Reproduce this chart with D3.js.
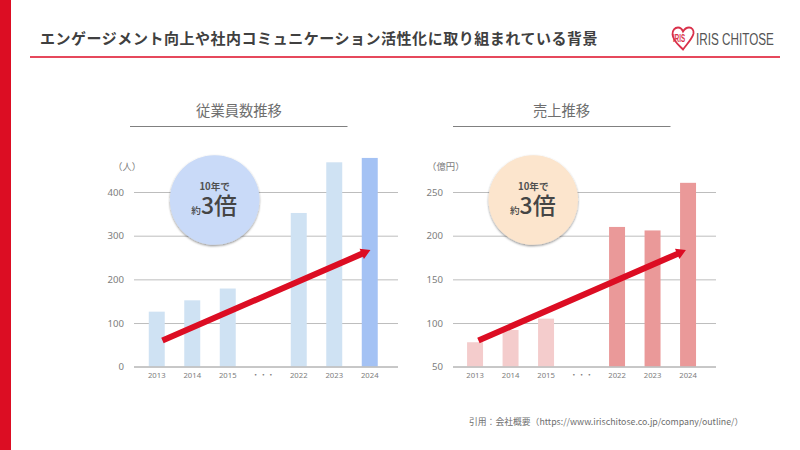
<!DOCTYPE html>
<html lang="ja">
<head>
<meta charset="utf-8">
<script src="https://cdnjs.cloudflare.com/ajax/libs/d3/7.8.5/d3.min.js"></script>
<style>
html,body{margin:0;padding:0;background:#fff;overflow:hidden}
svg{display:block}
text{font-family:"Noto Sans CJK JP","Noto Sans",sans-serif}
</style>
</head>
<body>
<svg id="c" width="800" height="450"></svg>
<script>
const categories = ["2013","2014","2015","・・・","2022","2023","2024"];
const employees = [126,152,179,null,352,468,478];
const revenue = [78,92,105,null,210,206,260.5];
const employeeTicks = [0,100,200,300,400];
const revenueTicks = [50,100,150,200,250];
const titleText = "エンゲージメント向上や社内コミュニケーション活性化に取り組まれている背景";
const sourceText = "引用：会社概要（https://www.irischitose.co.jp/company/outline/）";

const svg = d3.select("#c");
const RED = "#dc0d23";
svg.append("rect").attr("x",0).attr("y",0).attr("width",11).attr("height",450).attr("fill",RED);
svg.append("text").attr("x",40).attr("y",43.5).attr("font-size",15).attr("font-weight",700)
  .attr("letter-spacing",0.53).attr("fill","#404040").text(titleText);
svg.append("rect").attr("x",30).attr("y",56).attr("width",750).attr("height",2).attr("fill","#e6485c");

// logo
const logo = svg.append("g").attr("transform","translate(671.5,26.5)");
logo.append("path").attr("d","M11.5 23 C9 20 1.5 15 1 8 C0.7 3.5 3.5 1 6.5 1 C9 1 10.5 2.5 11.5 5 C13 2.5 15 1 17.5 1 C20.5 1 22.5 3.5 22 7 C21 12 15 18 11.5 23 Z")
  .attr("fill","none").attr("stroke","#d9304a").attr("stroke-width",1.8);
logo.append("text").attr("transform","translate(1.5,15) scale(0.62,1)").attr("font-size",10).attr("font-weight",700)
  .style("font-family","'Liberation Sans'")
  .attr("fill","#d9304a").text("IRIS");
svg.append("text").attr("transform","translate(696,44.5) scale(0.69,1)").attr("font-size",17)
  .style("font-family","'Liberation Sans'")
  .attr("fill","#555").text("IRIS CHITOSE");

const defs = svg.append("defs");
const f = defs.append("filter").attr("id","sh").attr("x","-20%").attr("y","-20%").attr("width","140%").attr("height","140%");
f.append("feDropShadow").attr("dx",0).attr("dy",1.2).attr("stdDeviation",1.2).attr("flood-color","#000").attr("flood-opacity",0.45);

function panel(o){
  const g = svg.append("g");
  // heading
  g.append("text").attr("x",o.headX).attr("y",116).attr("text-anchor","middle").attr("font-size",14.3)
    .attr("fill","#6e6e6e").text(o.heading);
  g.append("rect").attr("x",o.lineL).attr("y",126).attr("width",217.5).attr("height",1).attr("fill","#808080");

  const x = d3.scaleBand().domain(categories).range([o.bandL,o.bandL+248.5]).paddingInner(0.55).paddingOuter(0.275);
  const y = d3.scaleLinear().domain(o.domain).range([366.7,192]);
  const xIdx = d3.scaleLinear().domain([0,6]).range([x("2013")+x.bandwidth()/2, x("2024")+x.bandwidth()/2]);

  // grid + y labels
  const ya = g.append("g").attr("transform",`translate(${o.axisL},0)`)
    .call(d3.axisLeft(y).tickValues(o.ticks).tickSize(-(o.axisR-o.axisL)).tickPadding(10).tickFormat(d3.format("d")));
  ya.select(".domain").remove();
  ya.selectAll("line").attr("stroke","#bdbdbd").attr("stroke-width",1);
  ya.selectAll("text").attr("font-size",9.6).attr("fill","#7d7d7d").style("font-family","'Noto Sans','Noto Sans CJK JP'");

  // bars
  g.selectAll("rect.bar").data(categories.map((c,i)=>({c,v:o.values[i],i})).filter(d=>d.v!==null))
    .join("rect").attr("class","bar")
    .attr("x",d=>x(d.c)).attr("width",x.bandwidth())
    .attr("y",d=>y(d.v)).attr("height",d=>y(o.domain[0])-y(d.v))
    .attr("fill",d=>o.color(d.i));

  // x axis
  const xa = g.append("g").attr("transform","translate(0,367)")
    .call(d3.axisBottom(x).tickSize(0).tickPadding(5.5));
  xa.select(".domain").remove();
  xa.selectAll("text").attr("font-size",7.7).attr("fill","#7d7d7d").style("font-family","'Noto Sans','Noto Sans CJK JP'");
  g.append("line").attr("x1",o.axisL).attr("x2",o.axisR).attr("y1",366.9).attr("y2",366.9).attr("stroke","#bdbdbd").attr("stroke-width",1.2);

  // unit
  g.append("text").attr("x",o.unitX).attr("y",170).attr("font-size",9.4).attr("fill","#7d7d7d").text(o.unit);

  // arrow
  const x1=xIdx(o.arrowIdx[0]), y1=y(o.arrowVal[0]), x2=xIdx(o.arrowIdx[1]), y2=y(o.arrowVal[1]);
  const a=Math.atan2(y2-y1,x2-x1), hl=9.5, hw=5.5, sw=3;
  const ux=Math.cos(a), uy=Math.sin(a), px=-uy, py=ux;
  const bx=x2-ux*hl, by=y2-uy*hl;
  const pts=[[x1+px*sw,y1+py*sw],[bx+px*sw,by+py*sw],[bx+px*hw,by+py*hw],[x2,y2],[bx-px*hw,by-py*hw],[bx-px*sw,by-py*sw],[x1-px*sw,y1-py*sw]];
  g.append("polygon").attr("points",pts.map(p=>p.join(",")).join(" ")).attr("fill",RED);

  // badge
  g.append("circle").attr("cx",o.cx).attr("cy",200).attr("r",44.8).attr("fill",o.badge).attr("filter","url(#sh)");
  g.append("text").attr("x",o.cx).attr("y",190).attr("text-anchor","middle").attr("font-size",9.6).attr("font-weight",700)
    .attr("fill","#505050").text("10年で");
  const t = g.append("text").attr("x",o.cx-0.5).attr("y",214).attr("text-anchor","middle").attr("fill","#454545").attr("font-weight",500);
  t.append("tspan").attr("font-size",9.6).text("約");
  t.append("tspan").attr("font-size",23).text("3倍");
}

panel({heading:"従業員数推移",headX:239,lineL:130,axisL:134,axisR:398,bandL:139,domain:[0,400],ticks:employeeTicks,values:employees,
  color:i=>i===6?"#a4c2f4":"#cfe2f3",unit:"（人）",unitX:113,cx:214.7,badge:"#c9daf8",arrowIdx:[0.16,6.02],arrowVal:[60,267]});
panel({heading:"売上推移",headX:561.5,lineL:453,axisL:453,axisR:716,bandL:457.3,domain:[50,250],ticks:revenueTicks,values:revenue,
  color:i=>i<3?"#f4cccc":"#ea9999",unit:"（億円）",unitX:427,cx:533.3,badge:"#fce5cd",arrowIdx:[0.095,5.94],arrowVal:[80,183.5]});

svg.append("text").attr("x",469).attr("y",425).attr("font-size",8.8).attr("fill","#6e6e6e").text(sourceText);
</script>
</body>
</html>
